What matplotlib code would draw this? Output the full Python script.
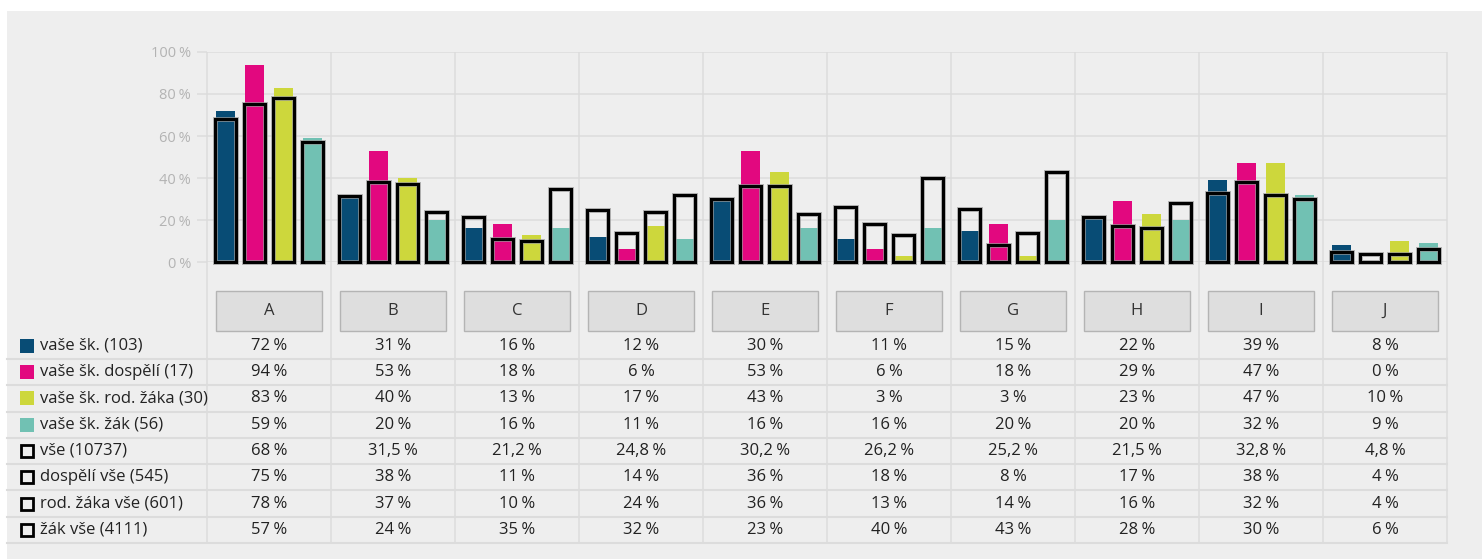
import matplotlib
matplotlib.use("Agg")
import matplotlib.pyplot as plt
import matplotlib.transforms as mtransforms
import matplotlib.patheffects as pe
from matplotlib.patches import Rectangle
import numpy as np

plt.rcParams['font.family'] = ['Open Sans', 'DejaVu Sans']

categories = ["A", "B", "C", "D", "E", "F", "G", "H", "I", "J"]

school_all = [72, 31, 16, 12, 30, 11, 15, 22, 39, 8]
school_adult = [94, 53, 18, 6, 53, 6, 18, 29, 47, 0]
school_parent = [83, 40, 13, 17, 43, 3, 3, 23, 47, 10]
school_pupil = [59, 20, 16, 11, 16, 16, 20, 20, 32, 9]

all_all = [68, 31.5, 21.2, 24.8, 30.2, 26.2, 25.2, 21.5, 32.8, 4.8]
all_adult = [75, 38, 11, 14, 36, 18, 8, 17, 38, 4]
all_parent = [78, 37, 10, 24, 36, 13, 14, 16, 32, 4]
all_pupil = [57, 24, 35, 32, 23, 40, 43, 28, 30, 6]

series_labels = ["vaše šk. (103)", "vaše šk. dospělí (17)", "vaše šk. rod. žáka (30)",
                 "vaše šk. žák (56)", "vše (10737)", "dospělí vše (545)",
                 "rod. žáka vše (601)", "žák vše (4111)"]
colors = ["#084c75", "#e2087f", "#cdd73c", "#71c1b3"]

filled = [school_all, school_adult, school_parent, school_pupil]
outlined = [all_all, all_adult, all_parent, all_pupil]

W, H = 1482, 559
fig = plt.figure(figsize=(W / 100, H / 100), dpi=100)
fig.patch.set_facecolor("white")
fig.add_artist(Rectangle((7 / W, 0), 1 - 7 / W, (H - 11) / H, transform=fig.transFigure,
                         facecolor="#eeeeee", edgecolor="none", zorder=-10))

grid_c = "#dcdcdc"
left_px, right_px = 207, 1447
ax_w = (right_px - left_px) / W
FS = 12

# table axes (rows)
row_top, row_h = 332.6, 26.3
n_rows = 8
tab = fig.add_axes([left_px / W, (H - (row_top + n_rows * row_h)) / H, ax_w, n_rows * row_h / H])
tab.set_xlim(-0.5, len(categories) - 0.5)
tab.set_ylim(n_rows, 0)
tab.axis("off")

# main chart axes
y0_px, y100_px = 262, 52
ax = fig.add_axes([left_px / W, (H - y0_px) / H, ax_w, (y0_px - y100_px) / H])
ax.set_facecolor("none")
ax.set_xlim(-0.5, len(categories) - 0.5)
ax.set_ylim(0, 100)
for s in ax.spines.values():
    s.set_visible(False)
ax.set_yticks([0, 20, 40, 60, 80, 100])
ax.set_yticklabels([f"{v}\u202f%" for v in [0, 20, 40, 60, 80, 100]])
ax.tick_params(axis="y", length=7.2, width=1.1, color=grid_c, pad=4.3,
               labelcolor="#b3b3b3", labelsize=10.5)
ax.set_xticks([])
ax.grid(axis="y", color=grid_c, linewidth=1.1)
ax.set_axisbelow(True)

# vertical separators (through chart and table)
top_data = (y100_px - row_top) / row_h
tab.vlines(np.arange(-0.5, len(categories) + 0.5, 1), top_data, n_rows,
           colors=grid_c, linewidth=1.1, clip_on=False, zorder=0)

x = np.arange(len(categories))
offsets = np.array([-43.5, -14.5, 14.5, 43.5]) / 124
fw = 19 / 124
ow = 21.5 / 124
for i, vals in enumerate(filled):
    ax.bar(x + offsets[i], vals, width=fw, color=colors[i], zorder=2)
for i, vals in enumerate(outlined):
    bars = ax.bar(x + offsets[i], vals, width=ow, facecolor="none", edgecolor="black",
                  linewidth=2.2, zorder=3, clip_on=False)
    for b in bars:
        b.set_path_effects([pe.Stroke(linewidth=3.6, foreground="#9a9a9a", alpha=0.7),
                            pe.Normal()])

# header boxes
hb_top = (291 - row_top) / row_h
hb_bot = (331 - row_top) / row_h
bw = 106 / 124
for i, c in enumerate(categories):
    tab.add_patch(Rectangle((i - bw / 2, hb_top), bw, hb_bot - hb_top, facecolor="#dedede",
                            edgecolor="#b4b4b4", linewidth=1.0, clip_on=False, zorder=2))
    tab.text(i, (hb_top + hb_bot) / 2, c, ha="center", va="center", fontsize=FS,
             color="#333333", clip_on=False, zorder=3)

# row lines
blend = mtransforms.blended_transform_factory(fig.transFigure, tab.transData)
for r in range(n_rows):
    tab.plot([7 / W, right_px / W], [r + 1, r + 1], transform=blend, color=grid_c,
             linewidth=1.5, clip_on=False, zorder=1)


def fmt(v):
    if float(v).is_integer():
        return f"{int(v)}\u202f%"
    return f"{v}".replace(".", ",") + "\u202f%"


all_series = filled + outlined
for r, vals in enumerate(all_series):
    yc = r + 0.5
    for i, v in enumerate(vals):
        tab.text(i, yc, fmt(v), ha="center", va="center", fontsize=FS, color="#222222",
                 clip_on=False)
    if r < 4:
        tab.plot([27 / W], [yc], transform=blend, marker="s", markersize=10.3,
                 markerfacecolor=colors[r], markeredgewidth=0, linestyle="none",
                 clip_on=False)
    else:
        tab.plot([27 / W], [yc], transform=blend, marker="s", markersize=8.8,
                 markerfacecolor="none", markeredgecolor="black", markeredgewidth=2.0,
                 linestyle="none", clip_on=False)
    tab.text(40 / W, yc, series_labels[r], transform=blend, ha="left", va="center",
             fontsize=FS, color="#222222", clip_on=False)

fig.savefig("out.png", dpi=100)
